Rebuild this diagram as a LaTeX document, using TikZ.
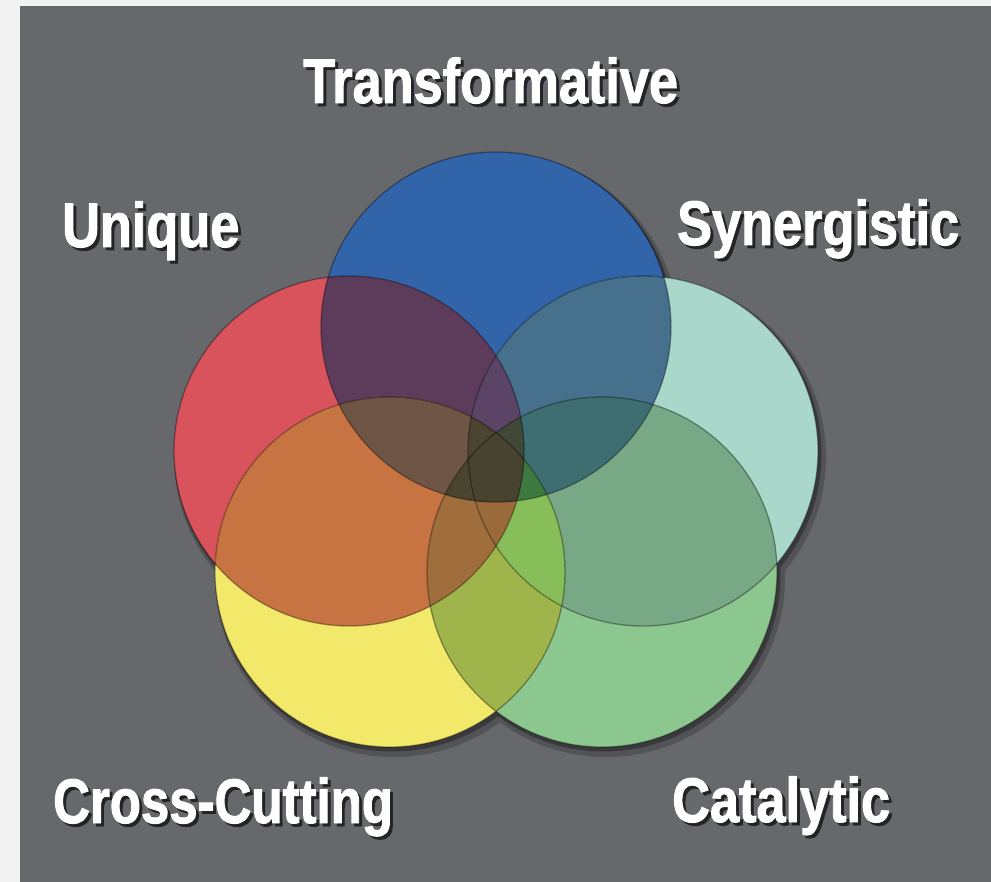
\documentclass[tikz,border=0pt]{standalone}
\usepackage{fontspec}
\usetikzlibrary{positioning}
\newfontfamily\lblfont[FakeStretch=0.83,FakeBold=1.5]{Liberation Sans Bold}
% flat colours
\definecolor{bgGray}{HTML}{67686C}
\definecolor{cB}{HTML}{3264AA}
\definecolor{cR}{HTML}{D9535C}
\definecolor{cT}{HTML}{A9D8CB}
\definecolor{cY}{HTML}{F2E86A}
\definecolor{cG}{HTML}{8CC78F}
% overlaps
\definecolor{cBR}{HTML}{5D3C5B}
\definecolor{cBT}{HTML}{46708C}
\definecolor{cRY}{HTML}{C87442}
\definecolor{cTG}{HTML}{78A886}
\definecolor{cYG}{HTML}{A0B44C}
\definecolor{cBRT}{HTML}{5B4466}
\definecolor{cBRY}{HTML}{6E5546}
\definecolor{cBTG}{HTML}{3E6E72}
\definecolor{cRYG}{HTML}{A06E3C}
\definecolor{cTYG}{HTML}{87BE5A}
\definecolor{cBRYG}{HTML}{4A4430}
\definecolor{cBTYG}{HTML}{3E7A40}
\definecolor{cRTYG}{HTML}{9A6A3A}
\definecolor{cBRTY}{HTML}{4A4430}
\definecolor{cBRTG}{HTML}{404838}
\definecolor{cAll}{HTML}{484230}
\tikzset{
    lbl/.style={text=white, inner sep=0pt, anchor=base west,
        font=\lblfont\fontsize{63}{70}\selectfont},
    rim/.style={draw=black, draw opacity=0.35, line width=1.3pt}
}
% white text with a dark shadow behind it
\newcommand{\shtext}[1]{%
    \makebox[0pt][l]{\hspace{3pt}\raisebox{-3pt}{\color{bgGray!35!black}#1}}#1}
% fill the common part of some circles
\newcommand{\patch}[2]{%
    \begin{scope}
        \foreach \cc in {#1}{\clip (\cc) circle [radius=\rad];}
        \fill[#2] (0,0) rectangle (991,882);
    \end{scope}}

\begin{document}
\begin{tikzpicture}[x=1pt, y=-1pt]
    \def \rad {175}
    \useasboundingbox (0,0) rectangle (991,882);
    \fill[white!95!black] (0,0) rectangle (991,882);
    \fill[bgGray] (20,6) rectangle (991,882);
    \coordinate (B) at (496,327);
    \coordinate (R) at (349,451);
    \coordinate (T) at (643,451);
    \coordinate (Y) at (390,572);
    \coordinate (G) at (602,572);
    % shadow
    \foreach \cc in {B,R,T,Y,G}
        \fill[bgGray!80!black] ([shift={(4,6)}]\cc) circle [radius=\rad+4];
    \foreach \cc in {B,R,T,Y,G}
        \fill[bgGray!55!black] ([shift={(2,3)}]\cc) circle [radius=\rad+1.5];
    % single circles
    \fill[cB] (B) circle [radius=\rad];
    \fill[cR] (R) circle [radius=\rad];
    \fill[cT] (T) circle [radius=\rad];
    \fill[cY] (Y) circle [radius=\rad];
    \fill[cG] (G) circle [radius=\rad];
    % two
    \patch{B,R}{cBR}
    \patch{B,T}{cBT}
    \patch{R,Y}{cRY}
    \patch{T,G}{cTG}
    \patch{Y,G}{cYG}
    % three
    \patch{B,R,T}{cBRT}
    \patch{B,R,Y}{cBRY}
    \patch{B,T,G}{cBTG}
    \patch{R,Y,G}{cRYG}
    \patch{T,Y,G}{cTYG}
    % four
    \patch{B,R,Y,G}{cBRYG}
    \patch{B,T,Y,G}{cBTYG}
    \patch{R,T,Y,G}{cRTYG}
    \patch{B,R,T,Y}{cBRTY}
    \patch{B,R,T,G}{cBRTG}
    % five
    \patch{B,R,T,Y,G}{cAll}
    % rims
    \foreach \cc in {B,R,T,Y,G}
        \draw[rim] (\cc) circle [radius=\rad];
    % labels
    \node[lbl] (trans) at (303,103) {\shtext{Transformative}};
    \node[lbl] (uniq) at (62,247) {\shtext{Unique}};
    \node[lbl] (syn) at (677,245) {\shtext{Synergistic}};
    \node[lbl, xscale=0.975, transform shape] (cross) at (53,823) {\shtext{Cross-Cutting}};
    \node[lbl] (cat) at (672,822) {\shtext{Catalytic}};
\end{tikzpicture}
\end{document}
